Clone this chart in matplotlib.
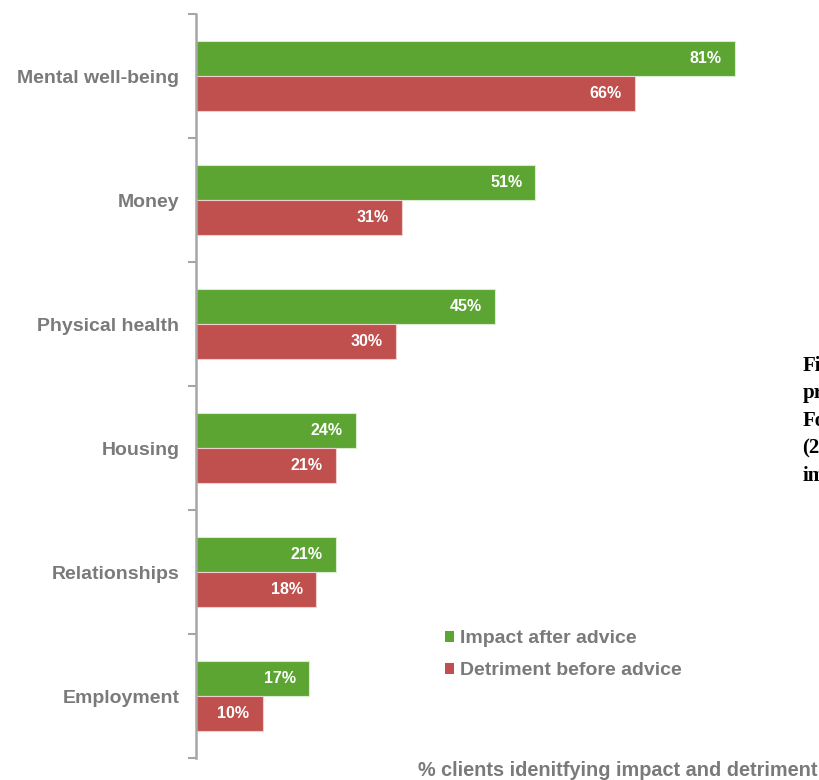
import matplotlib
matplotlib.use("Agg")
import matplotlib.pyplot as plt
from matplotlib.patches import Patch

categories = ["Mental well-being", "Money", "Physical health", "Housing",
              "Relationships", "Employment"]
impact_after = [81, 51, 45, 24, 21, 17]
detriment_before = [66, 31, 30, 21, 18, 10]
series_names = ["Impact after advice", "Detriment before advice"]
x_label = "% clients idenitfying impact and detriment"
caption_lines = ["Figure", "produced", "Foundation", "(2016)", "impact"]

GREEN = "#5da532"
RED = "#c0504d"
GREY = "#7a7a7a"

plt.rcParams["font.family"] = ["Liberation Sans", "DejaVu Sans"]

fig = plt.figure(figsize=(8.19, 7.80), dpi=100)
ax = fig.add_axes([0.2393, 0.0282, 0.731, 0.9538])

pos = list(range(len(categories)))
h = 0.286
bars_a = ax.barh([p - h / 2 for p in pos], impact_after, height=h,
                 color=GREEN, edgecolor="#d8ecd0", linewidth=0.8)
bars_d = ax.barh([p + h / 2 for p in pos], detriment_before, height=h,
                 color=RED, edgecolor="#f0d0cf", linewidth=0.8)

for bars, vals in ((bars_a, impact_after), (bars_d, detriment_before)):
    for b, v in zip(bars, vals):
        ax.annotate(f"{v}%", xy=(v, b.get_y() + b.get_height() / 2),
                    xytext=(-9.4, 0), textcoords="offset points",
                    ha="right", va="center", color="white",
                    fontsize=11.5, fontweight="bold")

ax.set_xlim(0, 90)
ax.set_ylim(len(categories) - 0.5, -0.5)

ax.set_yticks(pos)
ax.set_yticklabels(categories, fontsize=14, fontweight="bold", color=GREY)
ax.set_yticks([p - 0.5 for p in range(len(categories) + 1)], minor=True)
ax.tick_params(axis="y", which="major", length=0, pad=12)
ax.tick_params(axis="y", which="minor", length=6, width=1.5, color="#a6a6a6")
ax.set_xticks([])

for s in ("top", "right", "bottom"):
    ax.spines[s].set_visible(False)
ax.spines["left"].set_color("#a6a6a6")
ax.spines["left"].set_linewidth(1.8)

handles = [Patch(facecolor=GREEN, edgecolor="none"),
           Patch(facecolor=RED, edgecolor="none")]
fig.legend(handles, series_names, loc="upper left",
           bbox_to_anchor=(0.522, 0.2145), frameon=False,
           handlelength=0.46, handleheight=0.46, handletextpad=0.3,
           labelspacing=0.78, prop={"size": 14, "weight": "bold"},
           labelcolor=GREY)

fig.text(0.754, 0.0125, x_label, ha="center", va="center",
         fontsize=14.3, fontweight="bold", color=GREY)

for i, line in enumerate(caption_lines):
    fig.text(0.980, 1 - (371 + i * 27.5) / 780, line, ha="left",
             va="baseline", fontsize=15, fontweight="bold", color="black",
             family=["Liberation Serif", "DejaVu Serif"])

fig.savefig("out.png", dpi=100)
